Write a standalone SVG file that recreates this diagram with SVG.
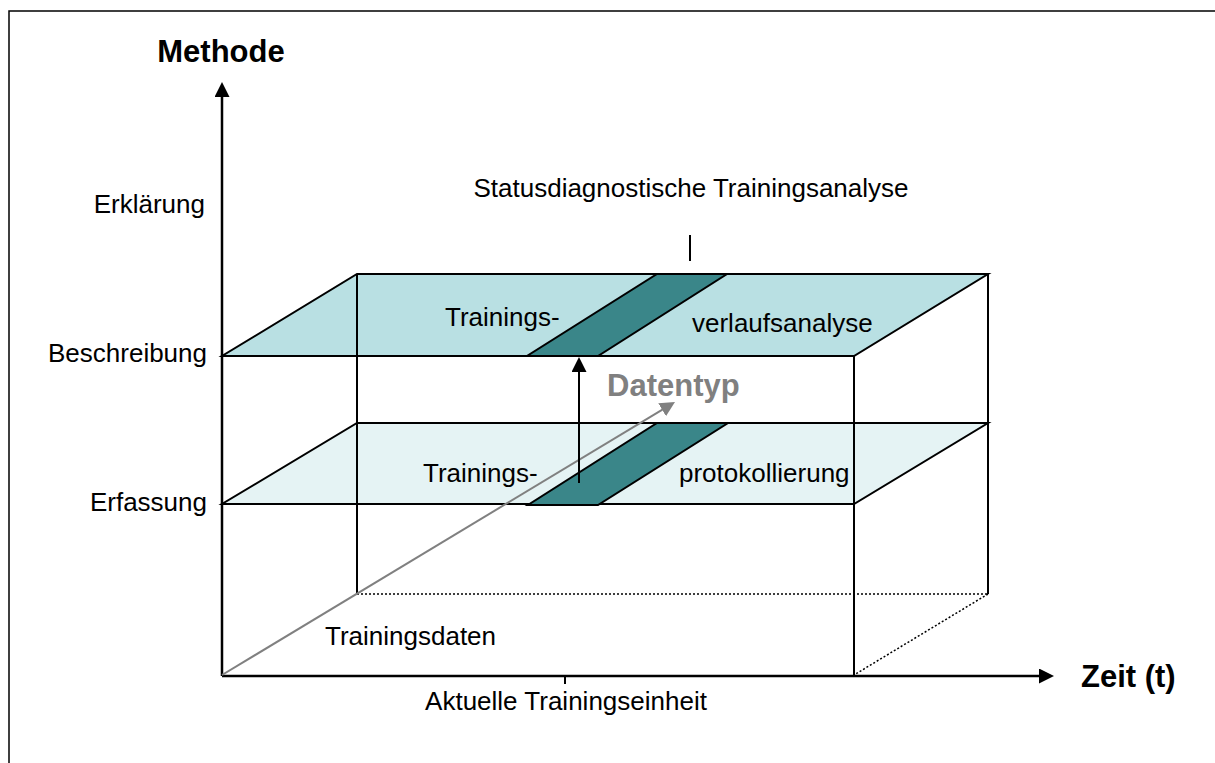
<svg xmlns="http://www.w3.org/2000/svg" width="1215" height="763" viewBox="0 0 1215 763">
  <style>
    .txt { font-family: "Liberation Sans", Arial, sans-serif; font-size: 26px; fill: #000; }
    .bold { font-family: "Liberation Sans", Arial, sans-serif; font-size: 31px; font-weight: bold; fill: #000; }
    .grey { fill: #808080; }
    .edge { stroke: #000; stroke-width: 2; fill: none; }
    .axis { stroke: #000; stroke-width: 2.5; fill: none; }
    .dotted { stroke: #000; stroke-width: 1.5; stroke-dasharray: 2 2; fill: none; }
    .upper { fill: #b9e0e3; stroke: #000; stroke-width: 2; }
    .lower { fill: #e5f3f4; stroke: #000; stroke-width: 2; }
    .stripe { fill: #3a8689; stroke: #000; stroke-width: 2; }
  </style>
  <defs>
    <marker id="arrowBlack" viewBox="0 0 15 15" refX="10" refY="7.5" markerWidth="15" markerHeight="15" markerUnits="userSpaceOnUse" orient="auto">
      <path d="M0,0 L15,7.5 L0,15 z" fill="#000"/>
    </marker>
    <marker id="arrowGrey" viewBox="0 0 15 15" refX="10" refY="7.5" markerWidth="15" markerHeight="15" markerUnits="userSpaceOnUse" orient="auto">
      <path d="M0,0 L15,7.5 L0,15 z" fill="#808080"/>
    </marker>
  </defs>

  <rect width="1215" height="763" fill="#fff"/>
  <!-- frame -->
  <rect x="9" y="11" width="1230" height="800" fill="none" stroke="#000" stroke-width="1.5"/>

  <!-- planes of the cube -->
  <g id="plane-beschreibung">
    <polygon class="upper" points="357,274 988,274 854,356 222,356"/>
    <polygon class="stripe" points="657,274 727,274 598,356 527,356"/>
    <text class="txt" x="445" y="326">Trainings-</text>
    <text class="txt" x="692" y="332">verlaufsanalyse</text>
  </g>
  <g id="plane-erfassung">
    <polygon class="lower" points="357,423 988,423 854,504 222,504"/>
    <polygon class="stripe" points="657,423 728,423 598,505 528,505"/>
    <text class="txt" x="423" y="482">Trainings-</text>
    <text class="txt" x="679" y="482">protokollierung</text>
  </g>

  <g id="connectors">
    <!-- cube edges -->
    <line class="edge" x1="357" y1="274" x2="357" y2="594"/>
    <line class="edge" x1="988" y1="274" x2="988" y2="594"/>
    <line class="edge" x1="854" y1="356" x2="854" y2="675"/>
    <line class="dotted" x1="357" y1="594" x2="988" y2="594"/>
    <line class="dotted" x1="988" y1="594" x2="854" y2="675"/>
    <!-- axes -->
    <line class="axis" x1="222" y1="676" x2="222" y2="87" marker-end="url(#arrowBlack)"/>
    <line class="axis" x1="222" y1="676" x2="1049" y2="676" marker-end="url(#arrowBlack)"/>
    <!-- tick for the current training unit -->
    <line class="edge" x1="565" y1="676" x2="565" y2="684"/>
    <!-- marker line for the status analysis -->
    <line class="edge" x1="690" y1="235" x2="690" y2="261"/>
    <!-- data type axis -->
    <line x1="222" y1="675" x2="670.7" y2="404.6" stroke="#808080" stroke-width="2" marker-end="url(#arrowGrey)"/>
    <!-- step from recording to description -->
    <line class="edge" x1="579" y1="483" x2="579" y2="362" marker-end="url(#arrowBlack)"/>
  </g>

  <g id="labels">
    <text class="bold" x="221" y="62" text-anchor="middle">Methode</text>
    <text class="bold" x="1081" y="687">Zeit (t)</text>
    <text class="bold grey" x="607" y="396">Datentyp</text>
    <text class="txt" x="205" y="213" text-anchor="end">Erklärung</text>
    <text class="txt" x="207" y="362" text-anchor="end">Beschreibung</text>
    <text class="txt" x="207" y="511" text-anchor="end">Erfassung</text>
    <text class="txt" x="691" y="197" text-anchor="middle">Statusdiagnostische Trainingsanalyse</text>
    <text class="txt" x="325" y="645">Trainingsdaten</text>
    <text class="txt" x="566" y="710" text-anchor="middle">Aktuelle Trainingseinheit</text>
  </g>
</svg>
